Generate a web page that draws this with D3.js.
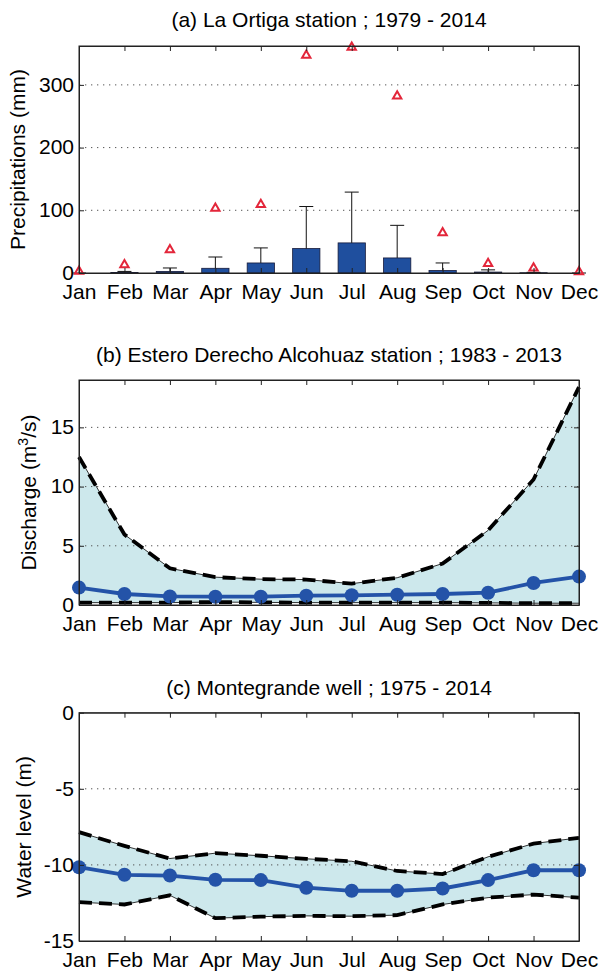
<!DOCTYPE html>
<html>
<head>
<meta charset="utf-8">
<script src="https://cdn.jsdelivr.net/npm/d3@7"></script>
<style>
  body { margin: 0; background: #fff; }
  text { font-family: "Liberation Sans", Arial, sans-serif; fill: #000; }
</style>
</head>
<body>
<svg id="chart" width="600" height="971"></svg>
<script>
const months = ["Jan", "Feb", "Mar", "Apr", "May", "Jun", "Jul", "Aug", "Sep", "Oct", "Nov", "Dec"];

// (a) precipitation: monthly mean, std (upper whisker) and max
const precipMean = [0, 0.8, 2.5, 7.5, 16, 39, 48, 24, 4, 1.5, 0.4, 0];
const precipStd = [0, 1.7, 5.5, 18, 24, 67, 81, 52, 12, 3.5, 0.6, 0];
const precipMax = [2.5, 13, 37, 103, 109, 347, 360, 282, 64, 15, 8, 2];

// (b) discharge: mean, upper and lower envelope
const dischMean = [1.47, 0.93, 0.72, 0.7, 0.7, 0.79, 0.82, 0.87, 0.93, 1.04, 1.86, 2.4];
const dischUpper = [12.5, 5.95, 3.1, 2.35, 2.18, 2.15, 1.8, 2.3, 3.5, 6.3, 10.6, 18.4];
const dischLower = [0.2, 0.2, 0.2, 0.25, 0.22, 0.2, 0.2, 0.2, 0.2, 0.18, 0.15, 0.15];

// (c) water level: mean, upper and lower envelope
const wellMean = [-10.15, -10.65, -10.7, -10.98, -11.0, -11.5, -11.7, -11.7, -11.55, -11.0, -10.35, -10.35];
const wellUpper = [-7.85, -8.75, -9.58, -9.23, -9.4, -9.6, -9.76, -10.4, -10.6, -9.47, -8.6, -8.22];
const wellLower = [-12.45, -12.6, -12.0, -13.5, -13.4, -13.35, -13.37, -13.3, -12.6, -12.15, -11.95, -12.15];

const precipTicks = [0, 100, 200, 300];
const dischTicks = [0, 5, 10, 15];
const wellTicks = [-15, -10, -5, 0];

const svg = d3.select("#chart");
const left = 79, right = 579;
const x = d3.scaleLinear().domain([0, 11]).range([left, right]);
const fontSize = 21;

function drawGrid(y, ticks) {
  const [y0, y1] = y.domain();
  svg.append("g")
    .selectAll("line")
    .data(ticks.filter((t) => t > y0 && t < y1))
    .enter()
    .append("line")
    .attr("x1", left)
    .attr("x2", right)
    .attr("y1", (d) => y(d))
    .attr("y2", (d) => y(d))
    .attr("stroke", "#555")
    .attr("stroke-width", 1)
    .attr("stroke-dasharray", "1.3,4.7");
}

function drawFrame(y, ticks, title, ylab, ylabX, titleY) {
  const [b, t] = y.range();

  // bottom axis with month labels, ticks pointing inward
  svg.append("g")
    .attr("transform", `translate(0,${b})`)
    .call(d3.axisBottom(x).tickValues(d3.range(12)).tickFormat((i) => months[i])
      .tickSizeInner(-5).tickSizeOuter(0).tickPadding(11))
    .call((g) => g.selectAll("text").attr("font-size", fontSize).attr("font-family", null));

  svg.append("g")
    .attr("transform", `translate(0,${t})`)
    .call(d3.axisTop(x).tickValues(d3.range(12)).tickFormat("")
      .tickSizeInner(-5).tickSizeOuter(0));

  svg.append("g")
    .attr("transform", `translate(${left},0)`)
    .call(d3.axisLeft(y).tickValues(ticks).tickFormat((d) => String(d))
      .tickSizeInner(-5).tickSizeOuter(0).tickPadding(5))
    .call((g) => g.selectAll("text").attr("font-size", fontSize).attr("font-family", null).attr("dy", "0.3em"));

  svg.append("g")
    .attr("transform", `translate(${right},0)`)
    .call(d3.axisRight(y).tickValues(ticks).tickFormat("")
      .tickSizeInner(-5).tickSizeOuter(0));

  svg.selectAll(".domain").attr("stroke", "#222");
  svg.selectAll(".tick line").attr("stroke", "#222");

  svg.append("rect")
    .attr("x", left)
    .attr("y", t)
    .attr("width", right - left)
    .attr("height", b - t)
    .attr("fill", "none")
    .attr("stroke", "#222")
    .attr("stroke-width", 1);

  svg.append("text")
    .attr("x", (left + right) / 2)
    .attr("y", titleY)
    .attr("text-anchor", "middle")
    .attr("font-size", fontSize)
    .text(title);

  const yl = svg.append("text")
    .attr("transform", `translate(${ylabX},${(t + b) / 2}) rotate(-90)`)
    .attr("text-anchor", "middle")
    .attr("font-size", fontSize);
  ylab(yl);
}

// Panel (a)
const ya = d3.scaleLinear().domain([0, 362]).range([273, 46]);
drawGrid(ya, precipTicks);

const barW = (x(1) - x(0)) * 0.6;
svg.append("g")
  .selectAll("rect")
  .data(precipMean)
  .enter()
  .append("rect")
  .attr("x", (d, i) => x(i) - barW / 2)
  .attr("y", (d) => ya(d))
  .attr("width", barW)
  .attr("height", (d) => ya(0) - ya(d))
  .attr("fill", "#1f4f9e")
  .attr("stroke", "#161a3a")
  .attr("stroke-width", 0.8);

const err = svg.append("g")
  .selectAll("g")
  .data(precipMean)
  .enter()
  .append("g")
  .attr("stroke", "#111")
  .attr("stroke-width", 1);
err.append("line")
  .attr("x1", (d, i) => x(i))
  .attr("x2", (d, i) => x(i))
  .attr("y1", (d) => ya(d))
  .attr("y2", (d, i) => ya(d + precipStd[i]));
err.append("line")
  .attr("x1", (d, i) => x(i) - 7)
  .attr("x2", (d, i) => x(i) + 7)
  .attr("y1", (d, i) => ya(d + precipStd[i]))
  .attr("y2", (d, i) => ya(d + precipStd[i]));

svg.append("g")
  .selectAll("path")
  .data(precipMax)
  .enter()
  .append("path")
  .attr("d", d3.symbol(d3.symbolTriangle2, 50))
  .attr("transform", (d, i) => `translate(${x(i)},${ya(d)})`)
  .attr("fill", "none")
  .attr("stroke", "#e3263a")
  .attr("stroke-width", 2);

drawFrame(ya, precipTicks, "(a) La Ortiga station ; 1979 - 2014",
  (t) => t.text("Precipitations (mm)"), 25, 27);

// band panels (b) and (c)
function drawBand(y, ticks, mean, upper, lower) {
  const area = d3.area()
    .x((d, i) => x(i))
    .y0((d, i) => y(lower[i]))
    .y1((d) => y(d));
  svg.append("path")
    .datum(upper)
    .attr("d", area)
    .attr("fill", "#cde8ec");

  drawGrid(y, ticks);

  const line = d3.line().x((d, i) => x(i)).y((d) => y(d));
  [upper, lower].forEach((s) => {
    svg.append("path").datum(s).attr("d", line)
      .attr("fill", "none").attr("stroke", "#000").attr("stroke-width", 0.8);
    svg.append("path").datum(s).attr("d", line)
      .attr("fill", "none").attr("stroke", "#000").attr("stroke-width", 3.8)
      .attr("stroke-dasharray", "13,7");
  });

  svg.append("path").datum(mean).attr("d", line)
    .attr("fill", "none").attr("stroke", "#2453a8").attr("stroke-width", 3.8);
  svg.append("g")
    .selectAll("circle")
    .data(mean)
    .enter()
    .append("circle")
    .attr("cx", (d, i) => x(i))
    .attr("cy", (d) => y(d))
    .attr("r", 7)
    .attr("fill", "#2453a8");
}

// Panel (b)
const yb = d3.scaleLinear().domain([0, 19]).range([605, 380]);
drawBand(yb, dischTicks, dischMean, dischUpper, dischLower);
drawFrame(yb, dischTicks, "(b) Estero Derecho Alcohuaz station ; 1983 - 2013", (t) => {
  t.append("tspan").text("Discharge (m");
  t.append("tspan").attr("font-size", 14).attr("dy", -8).text("3");
  t.append("tspan").attr("dy", 8).text("/s)");
}, 36, 362);

// Panel (c)
const yc = d3.scaleLinear().domain([-15, 0]).range([941, 712.7]);
drawBand(yc, wellTicks, wellMean, wellUpper, wellLower);
drawFrame(yc, wellTicks, "(c) Montegrande well ; 1975 - 2014",
  (t) => t.text("Water level (m)"), 31, 695);
</script>
</body>
</html>
